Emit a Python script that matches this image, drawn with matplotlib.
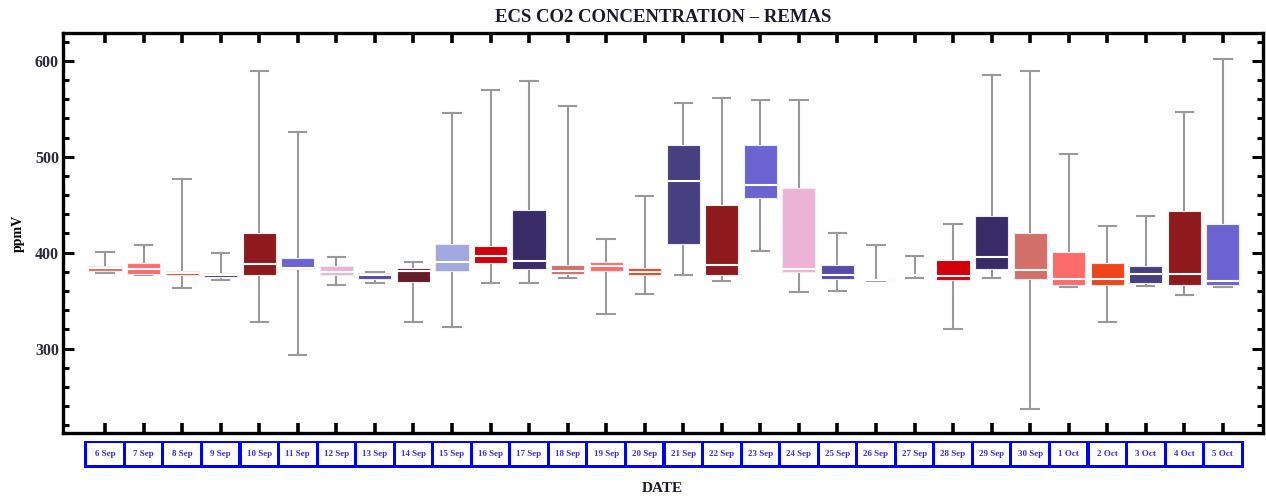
import matplotlib
matplotlib.use("Agg")
import matplotlib.pyplot as plt
import matplotlib.transforms as mtransforms
from matplotlib.patches import Rectangle
from matplotlib.ticker import MultipleLocator

plt.rcParams['font.family'] = ['Liberation Serif', 'DejaVu Serif']

dates = ["6 Sep", "7 Sep", "8 Sep", "9 Sep", "10 Sep", "11 Sep", "12 Sep", "13 Sep",
         "14 Sep", "15 Sep", "16 Sep", "17 Sep", "18 Sep", "19 Sep", "20 Sep", "21 Sep",
         "22 Sep", "23 Sep", "24 Sep", "25 Sep", "26 Sep", "27 Sep", "28 Sep", "29 Sep",
         "30 Sep", "1 Oct", "2 Oct", "3 Oct", "4 Oct", "5 Oct"]

# whisker low, q1, median, q3, whisker high (ppmV)
whis_lo = [379, 377, 363.5, 372, 328, 293, 366, 368.5, 328, 322.6,
           368.7, 368.7, 373.6, 335.8, 357.3, 377, 370.5, 401.4, 358.7, 360.4,
           370.5, 373.6, 320.8, 373.6, 237, 363.9, 327.8, 365.6, 355.6, 363.9]
q1 = [381, 378, 376.5, 375, 376.5, 383, 377, 373, 369.5, 381,
      389, 383, 378, 381, 376.4, 409.4, 376.4, 456.6, 379.9, 372.9,
      371.5, 376.5, 371.6, 383, 373, 366.7, 366.7, 368.4, 366.7, 366.7]
med = [384, 383, 379, 377, 388.5, 384, 380, 376.5, 380.5, 390,
       397, 391.7, 381, 385.7, 379.5, 475, 386.8, 470.8, 383, 377,
       372, 377, 375.3, 395.5, 381.6, 373, 373, 377.8, 377.5, 370.1]
q3 = [386, 389, 381, 379, 420, 394, 386, 379, 384, 408.6,
      407, 445, 387.5, 390.6, 384, 511.8, 449.3, 512.2, 467.7, 387.5,
      373, 377.5, 392, 438, 420, 400.3, 389, 385.8, 443, 429.9]
whis_hi = [401, 408, 477, 400, 589, 526, 395, 380, 390, 546,
           569.5, 579, 552.4, 414.6, 458.6, 556, 560.8, 559.4, 559.4, 421,
           408, 397, 429.5, 585.4, 588.9, 503, 427.4, 437.8, 546.2, 601.8]

palette = ["#D4706A", "#FF6B6B", "#F0441A", "#463F80", "#8F1A1E", "#6B63D0",
           "#EDB3D6", "#574BA8", "#651C2A", "#A3A8E0", "#D1000A", "#392A68"]

fig = plt.figure(figsize=(12.66, 4.98), dpi=100)
ax = fig.add_axes([0.0498, 0.1305, 0.9478, 0.8032])

positions = list(range(len(dates)))
stats = []
for i in positions:
    stats.append({"whislo": whis_lo[i], "q1": q1[i], "med": med[i],
                  "q3": q3[i], "whishi": whis_hi[i], "fliers": []})

bp = ax.bxp(stats, positions=positions, widths=0.86, capwidths=0.45,
            patch_artist=True, showfliers=False,
            whiskerprops=dict(color="#999999", linewidth=1.5),
            capprops=dict(color="#999999", linewidth=1.5),
            medianprops=dict(color="white", linewidth=1.5),
            boxprops=dict(linewidth=0.8))
for i, box in enumerate(bp["boxes"]):
    box.set_facecolor(palette[i % len(palette)])
    box.set_edgecolor("#ececf4")
for w in bp["whiskers"] + bp["caps"]:
    w.set_zorder(1)

ax.set_xlim(-1.09, 30.04)
ax.set_ylim(212, 629)

for s in ax.spines.values():
    s.set_linewidth(2.4)

ax.yaxis.set_major_locator(MultipleLocator(100))
ax.yaxis.set_minor_locator(MultipleLocator(20))
ax.tick_params(axis="y", which="major", direction="in", length=8, width=2.2,
               left=True, right=True, labelsize=11.5, pad=3)
ax.tick_params(axis="y", which="minor", direction="in", length=4.5, width=2.2,
               left=True, right=True)
ax.set_xticks(positions)
ax.tick_params(axis="x", which="major", direction="in", length=7, width=2.6,
               top=True, bottom=True, labelbottom=False)
for lbl in ax.get_yticklabels():
    lbl.set_fontweight("bold")
    lbl.set_color("#2a2a3a")

# date label strip below the axis
trans = mtransforms.blended_transform_factory(ax.transData, ax.transAxes)
ax.add_patch(Rectangle((positions[0] - 0.55, -0.0875), positions[-1] - positions[0] + 1.1,
                       0.0675, transform=trans, facecolor="#0000ff",
                       edgecolor="none", clip_on=False))
for i, d in zip(positions, dates):
    ax.add_patch(Rectangle((i - 0.46, -0.081), 0.92, 0.055, transform=trans,
                           facecolor="white", edgecolor="none", clip_on=False))
    ax.text(i, -0.0535, d, transform=trans, ha="center", va="center",
            fontsize=6.5, fontweight="bold", color="#3a2be8")

ax.set_title("ECS CO2 CONCENTRATION \u2013 REMAS", fontsize=13.5, fontweight="bold",
             color="#1a1a2a", pad=8)
ax.set_ylabel("ppmV", fontsize=10, fontweight="bold", labelpad=7)
fig.text(0.523, 0.02, "DATE", ha="center", va="center", fontsize=11,
         fontweight="bold", color="#1a1a2a")

fig.savefig("out.png", dpi=100)
